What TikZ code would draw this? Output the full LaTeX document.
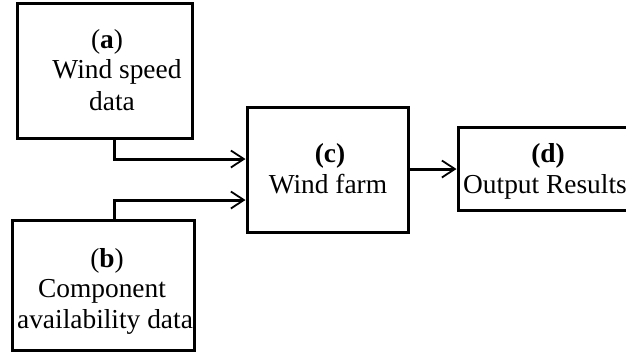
\documentclass[tikz,border=0pt]{standalone}
\usepackage{fontspec}
\setmainfont{Liberation Serif}
\usetikzlibrary{arrows.meta}
\begin{document}
\begin{tikzpicture}[x=1pt,y=-1pt,
  box/.style={draw, line width=3pt, inner sep=0pt, outer sep=1.5pt},
  txt/.style={anchor=base, inner sep=0pt, font=\fontsize{27.4}{31}\selectfont},
  conn/.style={line width=3pt, -{Straight Barb[length=13pt,width=17pt,line width=1.8pt]}}]
\useasboundingbox (0,0) rectangle (626,360);
% boxes
\node[box, minimum width=175pt, minimum height=135pt] (a) at (104.5,70.5) {};
\node[box, minimum width=182pt, minimum height=130pt] (b) at (103,285) {};
\node[box, minimum width=161pt, minimum height=125pt] (c) at (327.5,169.5) {};
\node[box, minimum width=182pt, minimum height=83pt] (d) at (549,168.5) {};
% texts
\node[txt] (a1) at (107,48) {(\textbf{a})};
\node[txt] (a2) at (117,78) {Wind speed};
\node[txt] (a3) at (112,110) {data};
\node[txt] (b1) at (107,267) {(\textbf{b})};
\node[txt] (b2) at (102,297) {Component};
\node[txt] (b3) at (105,328) {availability data};
\node[txt] (c1) at (330,162) {\textbf{(c)}};
\node[txt] (c2) at (328,193) {Wind farm};
\node[txt] (d1) at (548,162) {\textbf{(d)}};
\node[txt] (d2) at (545,193) {Output Results};
% helper coordinates
\coordinate (ax) at (114,0);
\coordinate (ya) at (0,159);
\coordinate (yb) at (0,200);
\coordinate (ycd) at (0,169);
% connectors
\draw[conn] (a.south -| ax) |- (c.west |- ya);
\draw[conn] (b.north -| ax) |- (c.west |- yb);
\draw[conn] (c.east |- ycd) -- (d.west |- ycd);
\end{tikzpicture}
\end{document}
